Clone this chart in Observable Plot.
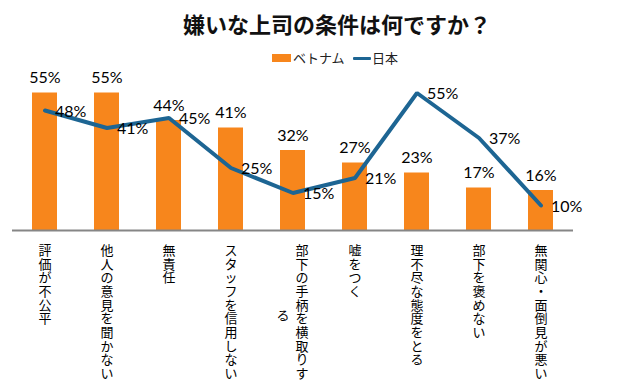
<!DOCTYPE html>
<html><head><meta charset="utf-8">
<script src="https://cdn.jsdelivr.net/npm/d3@7"></script>
<script src="https://cdn.jsdelivr.net/npm/@observablehq/plot@0.6"></script>
<style>
body{margin:0;background:#fff;font-family:"Noto Sans CJK JP",sans-serif;}
#wrap{position:relative;width:620px;height:391px;overflow:hidden;}
#head{position:relative;width:620px;height:60px;}
#title{position:absolute;left:0;top:8px;width:674px;text-align:center;font-size:22px;font-weight:bold;color:#111;line-height:30px;}
.lg{position:absolute;top:49px;font-size:13px;line-height:18px;color:#222;}
</style></head>
<body>
<div id="wrap">
<div id="head">
  <div id="title">嫌いな上司の条件は何ですか？</div>
  <div class="lg" style="left:272px;top:54px;width:19px;height:8px;background:#F7861C"></div>
  <div class="lg" style="left:293px">ベトナム</div>
  <div class="lg" style="left:353px;top:57px;width:18px;height:3px;background:#1D6593;border-radius:1px"></div>
  <div class="lg" style="left:372px">日本</div>
</div>
<div id="chart"></div>
</div>
<script>
const categories = ["評価が不公平","他人の意見を聞かない","無責任","スタッフを信用しない","部下の手柄を横取りする","嘘をつく","理不尽な態度をとる","部下を褒めない","無関心・面倒見が悪い"];
const vietnam = [55,55,44,41,32,27,23,17,16];
const japan = [48,41,45,25,15,21,55,37,10];

const rows = categories.map((c,i)=>({cat:c, vn:vietnam[i], jp:japan[i]}));
const MAXCHARS = 10;
const cols = [];
categories.forEach(c=>{
  const chars = Array.from(c);
  const n = Math.ceil(chars.length/MAXCHARS);
  for(let k=0;k<n;k++){
    cols.push({cat:c, k, n, t:chars.slice(k*MAXCHARS,(k+1)*MAXCHARS).join("\n")});
  }
});
const numFont = "Lato, 'Open Sans', sans-serif";
const jpFont = "'Noto Sans CJK JP', sans-serif";
const labelBase = {x:"cat", text:"t", frameAnchor:"bottom", fontSize:13, lineHeight:1.05, fontFamily:jpFont, fill:"#000"};

const chart = Plot.plot({
  width:620, height:331,
  marginLeft:12, marginRight:47, marginTop:20, marginBottom:161,
  x:{type:"band", domain:categories, paddingInner:0.6, paddingOuter:0.3, axis:null},
  y:{domain:[0,60], axis:null},
  marks:[
    Plot.barY(rows,{x:"cat", y:"vn", fill:"#F7861C"}),
    Plot.ruleY([0],{stroke:"#868686", strokeWidth:2}),
    Plot.lineY(rows,{x:"cat", y:"jp", stroke:"#1D6593", strokeWidth:4, strokeLinejoin:"miter", strokeLinecap:"round"}),
    Plot.text(rows,{x:"cat", y:"vn", text:d=>d.vn+"%", dy:-15, lineAnchor:"middle", fontSize:16, fontFamily:numFont, fill:"#000"}),
    Plot.text(rows,{x:"cat", y:"jp", text:d=>d.jp+"%", dx:10, dy:1, textAnchor:"start", lineAnchor:"middle", fontSize:16, fontFamily:numFont, fill:"#000"}),
    Plot.text(cols.filter(d=>d.n===1),{...labelBase, lineAnchor:"top", dy:15}),
    Plot.text(cols.filter(d=>d.n>1 && d.k===0),{...labelBase, lineAnchor:"top", dy:15, dx:9}),
    Plot.text(cols.filter(d=>d.n>1 && d.k===1),{...labelBase, lineAnchor:"middle", dy:85, dx:-10})
  ]
});
document.getElementById("chart").appendChild(chart);
</script>
</body></html>
